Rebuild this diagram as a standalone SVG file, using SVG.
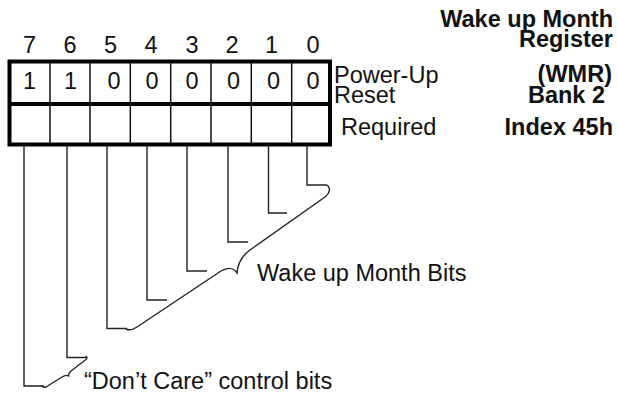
<svg xmlns="http://www.w3.org/2000/svg" width="618" height="396" viewBox="0 0 618 396">
<style>
text{font-family:"Liberation Sans",Arial,sans-serif;font-size:23.5px;fill:#111}
.b{font-weight:bold;text-anchor:end}
.c{text-anchor:middle}
.thick{fill:none;stroke:#000;stroke-width:4}
.thin{fill:none;stroke:#111;stroke-width:1.5}
.lead{fill:none;stroke:#222;stroke-width:1.4}
</style>
<rect width="618" height="396" fill="#fff"/>
<g id="title">
<text class="b" x="613" y="27">Wake up Month</text>
<text class="b" x="613" y="47">Register</text>
<text class="b" x="612" y="82">(WMR)</text>
<text class="b" x="605" y="103">Bank 2</text>
<text class="b" x="613" y="135">Index 45h</text>
</g>
<g id="bit-numbers">
<text class="c" x="29.5" y="53">7</text>
<text class="c" x="70" y="53">6</text>
<text class="c" x="110.5" y="53">5</text>
<text class="c" x="151" y="53">4</text>
<text class="c" x="192" y="53">3</text>
<text class="c" x="232" y="53">2</text>
<text class="c" x="271.5" y="53">1</text>
<text class="c" x="313" y="53">0</text>
</g>
<g id="register">
<rect class="thick" x="9.5" y="61.5" width="320.5" height="83"/>
<line class="thick" x1="9.5" y1="104" x2="330" y2="104"/>
<path class="thin" d="M50,61.5V144.5M90,61.5V144.5M130.3,61.5V144.5M170.7,61.5V144.5M211,61.5V144.5M251.3,61.5V144.5M291.7,61.5V144.5"/>
<text class="c" x="29.5" y="89">1</text>
<text class="c" x="70.5" y="89">1</text>
<text class="c" x="114" y="89">0</text>
<text class="c" x="152" y="89">0</text>
<text class="c" x="192" y="89">0</text>
<text class="c" x="233.5" y="89">0</text>
<text class="c" x="273.5" y="89">0</text>
<text class="c" x="313" y="89">0</text>
</g>
<g id="row-labels">
<text x="334" y="82.5">Power-Up</text>
<text x="334" y="103">Reset</text>
<text x="341" y="135">Required</text>
</g>
<g id="connectors">
<path class="lead" d="M307,146V185H327"/>
<path class="lead" d="M268.5,146V213H287"/>
<path class="lead" d="M228,146V242H248"/>
<path class="lead" d="M187,146V271H207"/>
<path class="lead" d="M147,146V300H167"/>
<path class="lead" d="M107,146V328.5H127"/>
<path class="lead" d="M67,146V357.5H86"/>
<path class="lead" d="M24,146V386H44"/>
<path class="lead" d="M327,185C331,188 330,193 325,197L250,250C243,255 238,262 237,273C234,268 228,267 221,271L137,327C134,329 130,331 126,329"/>
<path class="lead" d="M86,356C88,358 87,359 84,361L71,371C69,372.5 68.5,374 68.5,376C67,375 65,375 62,377L46,387C44,388 43,387 42,386"/>
</g>
<g id="group-labels">
<text x="257" y="281">Wake up Month Bits</text>
<text x="84" y="389">“Don’t Care” control bits</text>
</g>
</svg>
